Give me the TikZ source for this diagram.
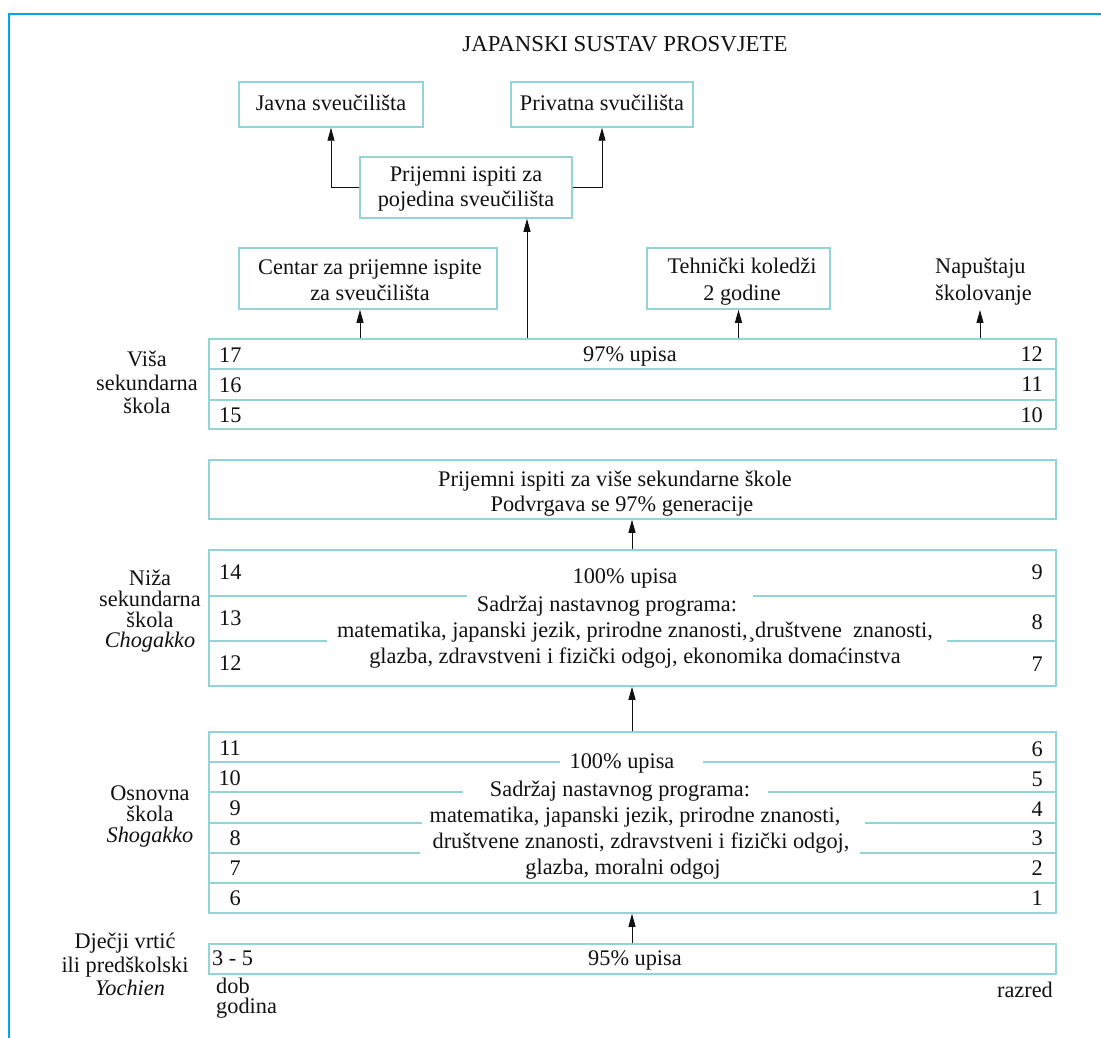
\documentclass[tikz,border=0pt]{standalone}
\usepackage{fontspec}
\setmainfont{Liberation Serif}
\usetikzlibrary{arrows.meta}
\definecolor{boxc}{HTML}{93D4D8}
\definecolor{framec}{HTML}{00A8E6}
\definecolor{inkc}{HTML}{111111}
\newcommand\bodyfont{\fontsize{22.3}{26}\selectfont}
\newcommand\titlefont{\fontsize{22.8}{27}\selectfont}
\begin{document}
\begin{tikzpicture}[x=1pt,y=-1pt,
  box/.style={draw=boxc, line width=1.5pt, inner sep=0pt},
  rowline/.style={draw=boxc, line width=1.3pt},
  txt/.style={font=\bodyfont, text=inkc, inner sep=0pt, anchor=base},
  txtl/.style={txt, anchor=base west},
  txtr/.style={txt, anchor=base east},
  arr/.style={draw=inkc, line width=0.9pt, -{Triangle[length=13pt,width=7pt]}}]
\useasboundingbox (0,0) rectangle (1101,1038);
% outer frame (top and left edges only)
\draw[framec, line width=2pt] (8.7,1045) -- (8.7,14.3) -- (1110,14.3);

% title
\node[txt, font=\titlefont] (title) at (625,52) {JAPANSKI SUSTAV PROSVJETE};

% top boxes
\node[box, minimum width=184pt, minimum height=45pt] (javna) at (331,104.5) {};
\node[txt] (javnat) at (331,111) {Javna sveučilišta};
\node[box, minimum width=182pt, minimum height=45pt] (priv) at (602,104.5) {};
\node[txt] (privt) at (602,111) {Privatna svučilišta};
\node[box, minimum width=212pt, minimum height=61pt] (pojed) at (466,187.5) {};
\node[txt] (pojed1) at (466,182) {Prijemni ispiti za};
\node[txt] (pojed2) at (466,207) {pojedina sveučilišta};

\node[box, minimum width=258pt, minimum height=61pt] (centar) at (368,278.5) {};
\node[txt] (centar1) at (370,274) {Centar za prijemne ispite};
\node[txt] (centar2) at (370,300) {za sveučilišta};
\node[box, minimum width=183pt, minimum height=61pt] (teh) at (738.5,278.5) {};
\node[txt] (teh1) at (742,273) {Tehnički koledži};
\node[txt] (teh2) at (742,300) {2 godine};
\node[txtl] (nap1) at (935,273) {Napuštaju};
\node[txtl] (nap2) at (935,300) {školovanje};

% upper secondary
\node[box, minimum width=847pt, minimum height=90pt] (visa) at (632.5,384) {};
\draw[rowline] (visa.west |- 0,369) -- (visa.east |- 0,369);
\draw[rowline] (visa.west |- 0,400) -- (visa.east |- 0,400);
\node[txtl] (v17) at (219,362) {17};
\node[txtl] (v16) at (219,392) {16};
\node[txtl] (v15) at (219,422) {15};
\node[txtr] (v12) at (1043,361) {12};
\node[txtr] (v11) at (1043,391) {11};
\node[txtr] (v10) at (1043,422) {10};
\node[txt] (v97) at (630,361) {97\% upisa};
\node[txt] (vl1) at (147,366) {Viša};
\node[txt] (vl2) at (147,390) {sekundarna};
\node[txt] (vl3) at (147,413) {škola};

% entrance exams for upper secondary
\node[box, minimum width=847pt, minimum height=59pt] (pis) at (632.5,489.5) {};
\node[txt] (pis1) at (615,486) {Prijemni ispiti za više sekundarne škole};
\node[txt] (pis2) at (622,511) {Podvrgava se 97\% generacije};

% lower secondary
\node[box, minimum width=847pt, minimum height=136pt] (niza) at (632.5,618) {};
\draw[rowline] (niza.west |- 0,596) -- (467,596);
\draw[rowline] (753,596) -- (niza.east |- 0,596);
\draw[rowline] (niza.west |- 0,641) -- (327,641);
\draw[rowline] (947,641) -- (niza.east |- 0,641);
\node[txtl] (n14) at (219,579) {14};
\node[txtl] (n13) at (219,625) {13};
\node[txtl] (n12) at (219,670) {12};
\node[txtr] (n9) at (1043,579) {9};
\node[txtr] (n8) at (1043,629) {8};
\node[txtr] (n7) at (1043,671) {7};
\node[txt] (nt1) at (625,583) {100\% upisa};
\node[txt] (nt2) at (607,611) {Sadržaj nastavnog programa:};
\node[txt] (nt3) at (635,637) {matematika, japanski jezik, prirodne znanosti,¸društvene\ \ znanosti,};
\node[txt] (nt4) at (635,663) {glazba, zdravstveni i fizički odgoj, ekonomika domaćinstva};
\node[txt] (nl1) at (150,585) {Niža};
\node[txt] (nl2) at (150,606) {sekundarna};
\node[txt] (nl3) at (150,627) {škola};
\node[txt] (nl4) at (150,647) {\itshape Chogakko};

% primary
\node[box, minimum width=847pt, minimum height=181pt] (osn) at (632.5,822.5) {};
\draw[rowline] (osn.west |- 0,762) -- (560,762);
\draw[rowline] (703,762) -- (osn.east |- 0,762);
\draw[rowline] (osn.west |- 0,792) -- (463,792);
\draw[rowline] (768,792) -- (osn.east |- 0,792);
\draw[rowline] (osn.west |- 0,823) -- (422,823);
\draw[rowline] (865,823) -- (osn.east |- 0,823);
\draw[rowline] (osn.west |- 0,853) -- (420,853);
\draw[rowline] (860,853) -- (osn.east |- 0,853);
\draw[rowline] (osn.west |- 0,883) -- (osn.east |- 0,883);
\node[txtr] (o11) at (241,755) {11};
\node[txtr] (o10) at (241,785) {10};
\node[txtr] (o9) at (241,815) {9};
\node[txtr] (o8) at (241,845) {8};
\node[txtr] (o7) at (241,875) {7};
\node[txtr] (o6) at (241,905) {6};
\node[txtr] (or6) at (1043,756) {6};
\node[txtr] (or5) at (1043,786) {5};
\node[txtr] (or4) at (1043,816) {4};
\node[txtr] (or3) at (1043,845) {3};
\node[txtr] (or2) at (1043,875) {2};
\node[txtr] (or1) at (1043,905) {1};
\node[txt] (ot1) at (622,768) {100\% upisa};
\node[txt] (ot2) at (620,796) {Sadržaj nastavnog programa:};
\node[txt] (ot3) at (635,822) {matematika, japanski jezik, prirodne znanosti,};
\node[txt] (ot4) at (641,848) {društvene znanosti, zdravstveni i fizički odgoj,};
\node[txt] (ot5) at (623,874) {glazba, moralni odgoj};
\node[txt] (ol1) at (150,800) {Osnovna};
\node[txt] (ol2) at (150,821) {škola};
\node[txt] (ol3) at (150,842) {\itshape Shogakko};

% kindergarten
\node[box, minimum width=847pt, minimum height=30pt] (vrt) at (632.5,959) {};
\node[txtl] (v35) at (212,965) {3 - 5};
\node[txt] (v95) at (635,965) {95\% upisa};
\node[txt] (kl1) at (125,948) {Dječji vrtić};
\node[txt] (kl2) at (125,972) {ili predškolski};
\node[txt] (kl3) at (130,995) {\itshape Yochien};
\node[txtl] (dob) at (216,993) {dob};
\node[txtl] (god) at (216,1013) {godina};
\node[txtr] (razred) at (1053,997) {razred};

% connectors
\draw[arr] (pojed.west) -| (javna.south);
\draw[arr] (pojed.east) -| (priv.south);
\draw[arr] (visa.north -| 527,0) -- (pojed.south -| 527,0);
\draw[arr] (visa.north -| 360,0) -- (centar.south -| 360,0);
\draw[arr] (visa.north -| teh.south) -- (teh.south);
\draw[arr, shorten >=5pt] (visa.north -| 980,0) -- (nap2.south -| 980,0);
\draw[arr] (niza.north -| 632,0) -- (pis.south -| 632,0);
\draw[arr] (osn.north -| 632,0) -- (niza.south -| 632,0);
\draw[arr] (vrt.north -| 632,0) -- (osn.south -| 632,0);
\end{tikzpicture}
\end{document}
